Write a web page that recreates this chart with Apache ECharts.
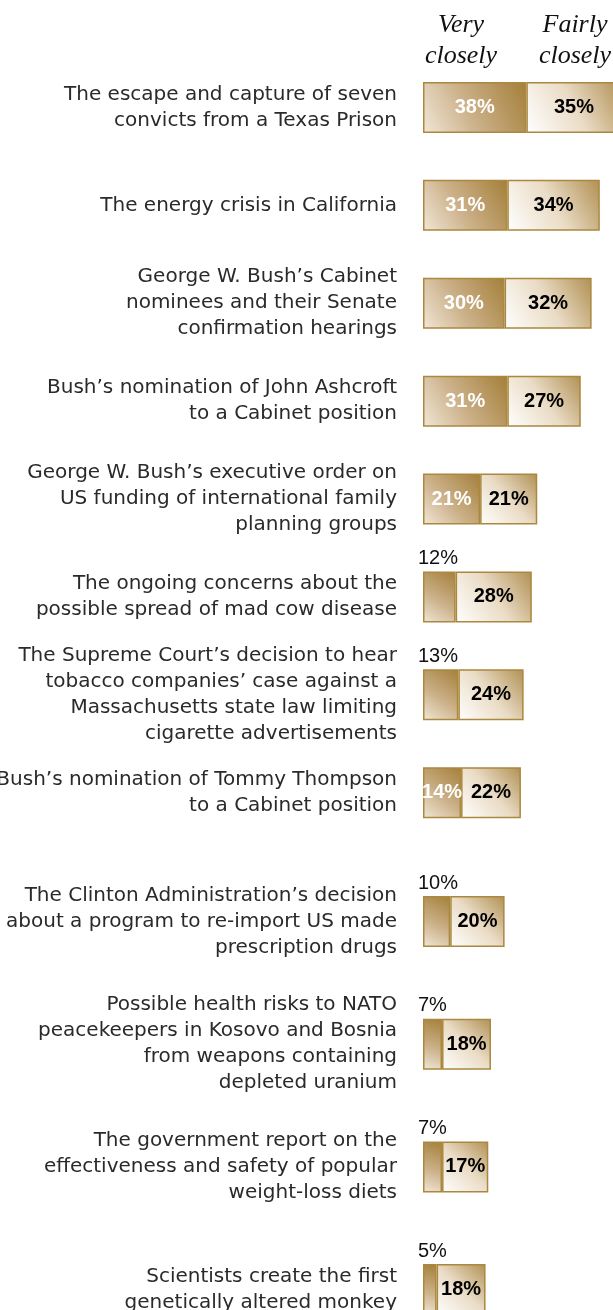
<!DOCTYPE html>
<html><head><meta charset="utf-8">
<script src="https://cdn.jsdelivr.net/npm/echarts@6/dist/echarts.min.js"></script>
<style>html,body{margin:0;padding:0;background:#fff}#c{width:613px;height:1310px}</style>
</head><body><div id="c"></div>
<script>
const categories = [
  "The escape and capture of seven\nconvicts from a Texas Prison",
  "The energy crisis in California",
  "George W. Bush’s Cabinet\nnominees and their Senate\nconfirmation hearings",
  "Bush’s nomination of John Ashcroft\nto a Cabinet position",
  "George W. Bush’s executive order on\nUS funding of international family\nplanning groups",
  "The ongoing concerns about the\npossible spread of mad cow disease",
  "The Supreme Court’s decision to hear\ntobacco companies’ case against a\nMassachusetts state law limiting\ncigarette advertisements",
  "Bush’s nomination of Tommy Thompson\nto a Cabinet position",
  "The Clinton Administration’s decision\nabout a program to re-import US made\nprescription drugs",
  "Possible health risks to NATO\npeacekeepers in Kosovo and Bosnia\nfrom weapons containing\ndepleted uranium",
  "The government report on the\neffectiveness and safety of popular\nweight-loss diets",
  "Scientists create the first\ngenetically altered monkey"
];
const veryClosely = [38, 31, 30, 31, 21, 12, 13, 14, 10, 7, 7, 5];
const fairlyClosely = [35, 34, 32, 27, 21, 28, 24, 22, 20, 18, 17, 18];
const headers = ["Very\nclosely", "Fairly\nclosely"];

const chart = echarts.init(document.getElementById('c'));
const G = echarts.graphic.LinearGradient;
const veryFill = new G(0, 1, 1, 0, [
  {offset: 0, color: '#f1e7d8'}, {offset: 0.45, color: '#cbb088'}, {offset: 1, color: '#a47f39'}]);
const fairlyFill = new G(0, 1, 1, 0, [
  {offset: 0, color: '#ffffff'}, {offset: 0.5, color: '#eadcc6'}, {offset: 1, color: '#b08f52'}]);
const border = {borderColor: '#aa883e', borderWidth: 1.5};

const insideLbl = {show: true, position: 'inside', color: '#ffffff', fontWeight: 'bold',
  fontFamily: 'Liberation Sans, Arial, sans-serif', fontSize: 20, formatter: '{c}%'};
const outsideLbl = {show: true, position: [-5, -3], align: 'left', verticalAlign: 'bottom',
  color: '#111', fontWeight: 'normal', fontFamily: 'Liberation Sans, Arial, sans-serif',
  fontSize: 20, formatter: '{c}%'};
const fairlyLbl = {show: true, position: 'inside', color: '#000', fontWeight: 'bold',
  fontFamily: 'Liberation Sans, Arial, sans-serif', fontSize: 20, formatter: '{c}%'};

const groups = [[0, 8], [8, 12]];
const grids = [
  {left: 423, top: 58.5, width: 217.6, height: 783.2, outerBoundsMode: 'none', containLabel: false},
  {left: 423, top: 860.2, width: 217.6, height: 490.7, outerBoundsMode: 'none', containLabel: false}
];
const xAxes = [], yAxes = [], series = [];
groups.forEach((g, i) => {
  xAxes.push({type: 'value', gridIndex: i, min: 0, max: 80, show: false});
  yAxes.push({type: 'category', gridIndex: i, inverse: true,
    data: categories.slice(g[0], g[1]),
    axisLine: {show: false}, axisTick: {show: false}, splitLine: {show: false},
    axisLabel: {margin: 26, color: '#2a2a2a', fontSize: 20, lineHeight: 26,
      fontFamily: 'DejaVu Sans, Verdana, sans-serif', align: 'right'}});
  series.push({type: 'bar', xAxisIndex: i, yAxisIndex: i, stack: 's' + i, barWidth: 51,
    itemStyle: Object.assign({color: veryFill}, border),
    data: veryClosely.slice(g[0], g[1]).map(v => ({value: v, label: v >= 14 ? insideLbl : outsideLbl}))});
  series.push({type: 'bar', xAxisIndex: i, yAxisIndex: i, stack: 's' + i, barWidth: 51,
    itemStyle: Object.assign({color: fairlyFill}, border), label: fairlyLbl,
    data: fairlyClosely.slice(g[0], g[1])});
});

chart.setOption({
  animation: false,
  grid: grids, xAxis: xAxes, yAxis: yAxes, series: series,
  graphic: [
    {type: 'text', x: 461, y: 10, style: {text: headers[0], align: 'center',
      font: 'italic 26px "Liberation Serif", serif', fill: '#111', lineHeight: 31}},
    {type: 'text', x: 575, y: 10, style: {text: headers[1], align: 'center',
      font: 'italic 26px "Liberation Serif", serif', fill: '#111', lineHeight: 31}}
  ]
});
</script></body></html>
